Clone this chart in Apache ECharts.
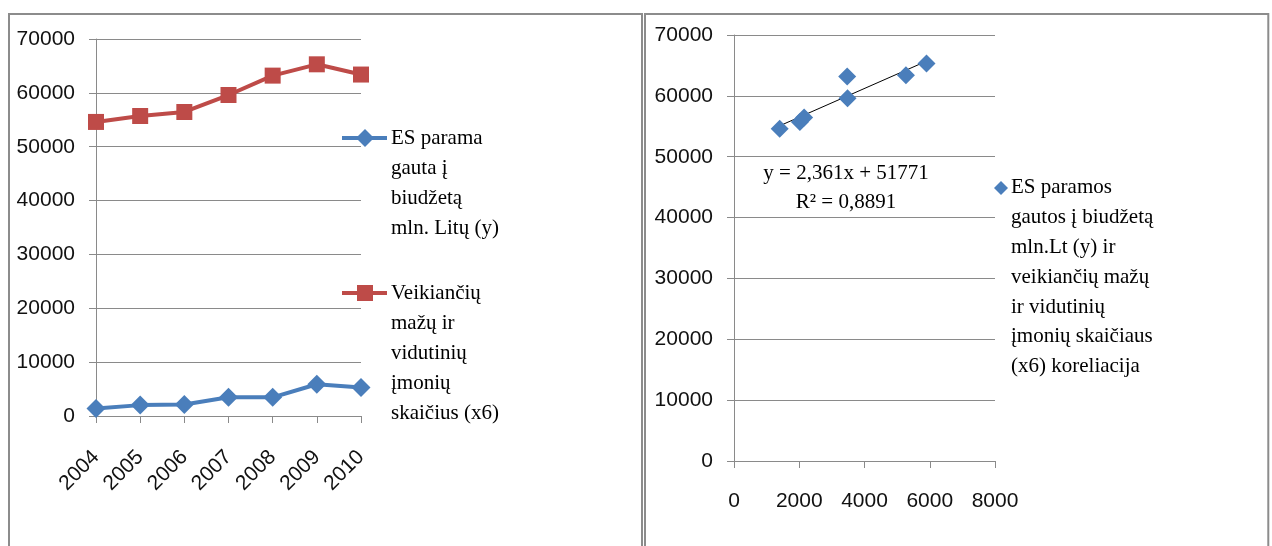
<!DOCTYPE html>
<html>
<head>
<meta charset="utf-8">
<script src="https://cdn.jsdelivr.net/npm/echarts@6/dist/echarts.min.js"></script>
<style>
html,body{margin:0;padding:0;background:#fff;}
#c{width:1272px;height:546px;}
</style>
</head>
<body>
<div id="c"></div>
<script>
// ---- data ----
const years = ['2004', '2005', '2006', '2007', '2008', '2009', '2010'];
const esParama = [1400, 2020, 2150, 3480, 3470, 5900, 5270];          // ES parama gauta į biudžetą mln. Litų (y)
const imoniuSk = [54600, 55700, 56450, 59600, 63200, 65300, 63400];   // Veikiančių mažų ir vidutinių įmonių skaičius (x6)
const yTicks = [0, 10000, 20000, 30000, 40000, 50000, 60000, 70000];
const xTicksScatter = [0, 2000, 4000, 6000, 8000];
const trendLine = [[1400, 55080], [5900, 65700]];
const legendLeft1 = 'ES parama\ngauta į\nbiudžetą\nmln. Litų (y)';
const legendLeft2 = 'Veikiančių\nmažų ir\nvidutinių\nįmonių\nskaičius (x6)';
const legendRight = 'ES paramos\ngautos į biudžetą\nmln.Lt (y) ir\nveikiančių mažų\nir vidutinių\nįmonių skaičiaus\n(x6) koreliacija';
const eqText = 'y = 2,361x + 51771\nR² = 0,8891';

const BLUE = '#4a7ebb';
const RED = '#be4b48';
const GRID = '#8a8a8a';
const SANS = 'Liberation Sans';

const scatterData = esParama.map((v, i) => [v, imoniuSk[i]]);
const plain = v => String(v);

const axisCommon = {
  axisLine: { show: true, lineStyle: { color: GRID, width: 1 } },
  axisTick: { show: true, length: 7, lineStyle: { color: GRID } },
  splitLine: { show: false },
};
const lbl = { fontFamily: SANS, fontSize: 21, color: '#111', formatter: plain };

const chart = echarts.init(document.getElementById('c'));
chart.setOption({
  animation: false,
  backgroundColor: '#fff',
  grid: [
    { left: 96, right: 1272 - 361, top: 39, bottom: 546 - 416 },
    { left: 734, right: 1272 - 995, top: 35, bottom: 546 - 461 }
  ],
  xAxis: [
    {
      gridIndex: 0, type: 'category', data: years, boundaryGap: false,
      ...axisCommon,
      axisTick: { show: true, length: 7, alignWithLabel: true, lineStyle: { color: GRID } },
      axisLabel: { ...lbl, rotate: 45, margin: 38 }
    },
    {
      gridIndex: 1, type: 'value', min: 0, max: 8000, interval: 2000,
      ...axisCommon,
      axisLabel: { ...lbl, margin: 30 }
    }
  ],
  yAxis: [
    {
      gridIndex: 0, type: 'value', min: yTicks[0], max: yTicks[yTicks.length - 1], interval: 10000,
      ...axisCommon,
      splitLine: { show: true, lineStyle: { color: GRID, width: 1 } },
      axisLabel: { ...lbl, margin: 21 }
    },
    {
      gridIndex: 1, type: 'value', min: yTicks[0], max: yTicks[yTicks.length - 1], interval: 10000,
      ...axisCommon,
      splitLine: { show: true, lineStyle: { color: GRID, width: 1 } },
      axisLabel: { ...lbl, margin: 21 }
    }
  ],
  series: [
    {
      type: 'line', xAxisIndex: 0, yAxisIndex: 0, data: esParama,
      symbol: 'diamond', symbolSize: 19, lineStyle: { color: BLUE, width: 4 },
      itemStyle: { color: BLUE, opacity: 1 }
    },
    {
      type: 'line', xAxisIndex: 0, yAxisIndex: 0, data: imoniuSk,
      symbol: 'rect', symbolSize: 16, lineStyle: { color: RED, width: 4 },
      itemStyle: { color: RED, opacity: 1 }
    },
    {
      type: 'line', xAxisIndex: 1, yAxisIndex: 1, data: trendLine,
      symbol: 'none', lineStyle: { color: '#000', width: 1 }, z: 1
    },
    {
      type: 'scatter', xAxisIndex: 1, yAxisIndex: 1, data: scatterData,
      symbol: 'diamond', symbolSize: 18, itemStyle: { color: BLUE, opacity: 1 }, z: 3
    }
  ],
  graphic: [
    // panel borders
    { type: 'rect', shape: { x: 9, y: 14, width: 633, height: 600 }, style: { fill: null, stroke: '#8c8c8c', lineWidth: 2 }, z: 100 },
    { type: 'rect', shape: { x: 1269.5, y: 0, width: 5, height: 546 }, style: { fill: '#fff' }, z: 99 },
    { type: 'rect', shape: { x: 645, y: 14, width: 623.3, height: 600 }, style: { fill: null, stroke: '#8c8c8c', lineWidth: 2 }, z: 100 },
    // left legend item 1
    { type: 'line', shape: { x1: 342, y1: 138, x2: 387, y2: 138 }, style: { stroke: BLUE, lineWidth: 4 }, z: 10 },
    { type: 'polygon', shape: { points: [[365, 129], [374, 138], [365, 147], [356, 138]] }, style: { fill: BLUE }, z: 11 },
    { type: 'text', x: 391, y: 123, style: { text: legendLeft1, font: '21px "Liberation Serif"', fill: '#000', lineHeight: 30, verticalAlign: 'top', align: 'left' }, z: 10 },
    // left legend item 2
    { type: 'line', shape: { x1: 342, y1: 293, x2: 387, y2: 293 }, style: { stroke: RED, lineWidth: 4 }, z: 10 },
    { type: 'rect', shape: { x: 357, y: 285, width: 16, height: 16 }, style: { fill: RED }, z: 11 },
    { type: 'text', x: 391, y: 278, style: { text: legendLeft2, font: '21px "Liberation Serif"', fill: '#000', lineHeight: 30, verticalAlign: 'top', align: 'left' }, z: 10 },
    // right legend
    { type: 'polygon', shape: { points: [[1001, 181], [1008, 188], [1001, 195], [994, 188]] }, style: { fill: BLUE }, z: 11 },
    { type: 'text', x: 1011, y: 173, style: { text: legendRight, font: '21px "Liberation Serif"', fill: '#000', lineHeight: 29.8, verticalAlign: 'top', align: 'left' }, z: 10 },
    // regression equation
    { type: 'text', x: 846, y: 158.5, style: { text: eqText, font: '21px "Liberation Serif"', fill: '#000', lineHeight: 29, verticalAlign: 'top', align: 'center' }, z: 10 }
  ]
});
</script>
</body>
</html>
